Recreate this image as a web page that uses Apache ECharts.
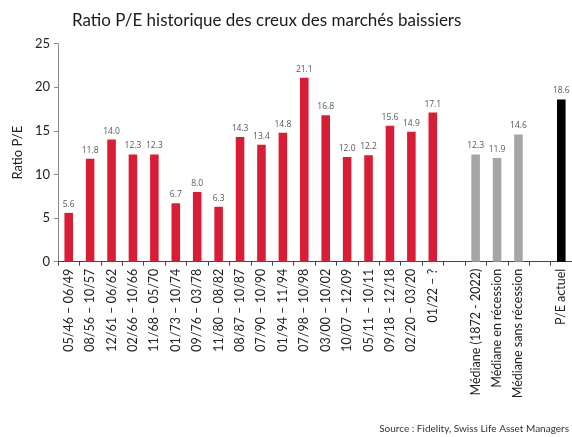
<!DOCTYPE html>
<html>
<head>
<meta charset="utf-8">
<script src="https://cdn.jsdelivr.net/npm/echarts@6/dist/echarts.min.js"></script>
<style>
  html, body { margin: 0; padding: 0; background: #fff; }
  #main { width: 572px; height: 437px; }
</style>
</head>
<body>
<div id="main"></div>
<script>
// périodes des creux de marchés baissiers
var periods = ['05/46 – 06/49', '08/56 – 10/57', '12/61 – 06/62', '02/66 – 10/66', '11/68 – 05/70',
    '01/73 – 10/74', '09/76 – 03/78', '11/80 – 08/82', '08/87 – 10/87', '07/90 – 10/90',
    '01/94 – 11/94', '07/98 – 10/98', '03/00 – 10/02', '10/07 – 12/09', '05/11 – 10/11',
    '09/18 – 12/18', '02/20 – 03/20', '01/22 – ?'];
var periodValues = [5.6, 11.8, 14.0, 12.3, 12.3, 6.7, 8.0, 6.3, 14.3, 13.4, 14.8, 21.1, 16.8, 12.0, 12.2, 15.6, 14.9, 17.1];

var medianLabels = ['Médiane (1872 - 2022)', 'Médiane en récession', 'Médiane sans récession'];
var medianValues = [12.3, 11.9, 14.6];

var currentLabel = 'P/E actuel';
var currentValue = 18.6;

var yTicks = [0, 5, 10, 15, 20, 25];

// construction des catégories et des données (avec des cases vides entre les groupes)
var categories = [];
var data = [];
periods.forEach(function (p, i) {
    categories.push(p);
    data.push({ value: periodValues[i], itemStyle: { color: '#d81e36' } });
});
categories.push('');
data.push('-');
medianLabels.forEach(function (m, i) {
    categories.push(m);
    data.push({ value: medianValues[i], itemStyle: { color: '#a5a5a5' } });
});
categories.push('');
data.push('-');
categories.push(currentLabel);
data.push({ value: currentValue, itemStyle: { color: '#000000' } });

var myChart = echarts.init(document.getElementById('main'), null, { renderer: 'canvas' });

option = {
    animation: false,
    title: {
        text: 'Ratio P/E historique des creux des marchés baissiers',
        left: 67,
        top: 7,
        textStyle: {
            fontFamily: 'Lato',
            fontWeight: 'normal',
            fontSize: 17,
            color: '#1a1a1a'
        }
    },
    graphic: [{
        type: 'text',
        right: 3,
        bottom: 3,
        style: {
            text: 'Source : Fidelity, Swiss Life Asset Managers',
            fontFamily: 'Lato',
            fontSize: 10,
            fill: '#333'
        }
    }],
    grid: {
        left: 58,
        right: -1,
        top: 43.7,
        bottom: 175.3,
        containLabel: false
    },
    xAxis: {
        type: 'category',
        data: categories,
        axisLine: { lineStyle: { color: '#444', width: 1 } },
        axisTick: { show: true, alignWithLabel: false, length: 4, lineStyle: { color: '#444' } },
        axisLabel: {
            rotate: 90,
            interval: 0,
            margin: 7,
            fontFamily: 'Lato',
            fontSize: 12.5,
            color: '#222'
        }
    },
    yAxis: {
        type: 'value',
        min: 0,
        max: 25,
        interval: 5,
        name: 'Ratio P/E',
        nameLocation: 'middle',
        nameGap: 30,
        nameTextStyle: { fontFamily: 'Lato', fontSize: 13, color: '#222' },
        axisLine: { show: true, lineStyle: { color: '#888' } },
        axisTick: { show: true, length: 4, lineStyle: { color: '#888' } },
        splitLine: { show: false },
        axisLabel: {
            fontFamily: 'Lato',
            fontSize: 13,
            color: '#222',
            margin: 8,
            formatter: function (v) { return yTicks.indexOf(v) >= 0 ? v : ''; }
        }
    },
    series: [{
        type: 'bar',
        data: data,
        barWidth: '40%',
        label: {
            show: true,
            position: 'top',
            distance: 4,
            fontFamily: 'Open Sans',
            fontSize: 8.5,
            color: '#555',
            formatter: function (p) { return p.value.toFixed(1); }
        }
    }]
};

myChart.setOption(option);
</script>
</body>
</html>
